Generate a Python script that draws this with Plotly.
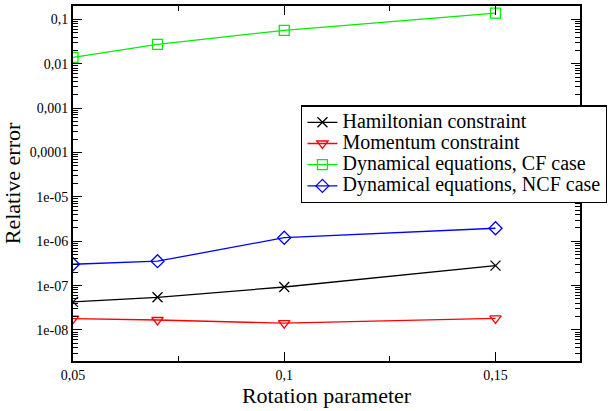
import plotly.graph_objects as go

x_vals = [0.05, 0.07, 0.1, 0.15]
hamiltonian = [4.3e-8, 5.45e-8, 9.3e-8, 2.82e-7]
momentum = [1.8e-8, 1.68e-8, 1.42e-8, 1.83e-8]
dyn_cf = [0.0139, 0.0274, 0.0565, 0.138]
dyn_ncf = [3.03e-7, 3.55e-7, 1.2e-6, 1.96e-6]

x_tickvals = [0.05, 0.1, 0.15]
x_ticktext = ["0,05", "0,1", "0,15"]
x_minor = [0.075, 0.125]
y_tickvals = [0.1, 0.01, 0.001, 0.0001, 1e-5, 1e-6, 1e-7, 1e-8]
y_ticktext = ["0,1", "0,01", "0,001", "0,0001", "1e-05", "1e-06", "1e-07", "1e-08"]
y_minor = [k * 10.0 ** e for e in range(-9, 0) for k in range(2, 10)]

series = [
    ("Hamiltonian constraint", hamiltonian, "black", "x-thin-open"),
    ("Momentum constraint", momentum, "#ff0000", "triangle-down-open"),
    ("Dynamical equations, CF case", dyn_cf, "#00ee00", "square-open"),
    ("Dynamical equations, NCF case", dyn_ncf, "#0000ff", "diamond-open"),
]

fig = go.Figure()
for name, vals, color, sym in series:
    fig.add_trace(go.Scatter(
        x=x_vals, y=vals, mode="lines+markers",
        name='<span style="font-size:20px">' + name + '</span>',
        line=dict(color=color, width=1.3),
        marker=dict(symbol=sym, size=10, color=color, line=dict(color=color, width=1.3)),
    ))

font = "Liberation Serif"
fig.update_layout(
    width=610, height=411,
    margin=dict(l=73, r=30, t=6, b=50, autoexpand=False),
    paper_bgcolor="white", plot_bgcolor="white",
    font=dict(family=font, color="black", size=14),
    showlegend=True,
    legend=dict(x=0.45, y=0.72, xanchor="left", yanchor="top",
                bgcolor="white", bordercolor="black", borderwidth=1.3,
                font=dict(family=font, size=14, color="black"), itemwidth=30,
                tracegroupgap=0),
)
fig.update_xaxes(
    range=[0.05, 0.17], tickvals=x_tickvals, ticktext=x_ticktext,
    ticks="inside", ticklen=9, tickwidth=1.3, tickcolor="black",
    showline=True, linecolor="black", linewidth=2, mirror="ticks",
    showgrid=False, zeroline=False, automargin=False,
    tickfont=dict(family=font, size=14, color="black"),
    minor=dict(tickvals=x_minor, ticks="inside", ticklen=5, tickcolor="black", tickwidth=1.3, showgrid=False),
    title=dict(text="Rotation parameter", font=dict(family=font, size=22, color="black"), standoff=4),
)
fig.update_yaxes(
    type="log", range=[-8.699, -0.699], tickvals=y_tickvals, ticktext=y_ticktext,
    ticks="inside", ticklen=9, tickwidth=1.3, tickcolor="black",
    showline=True, linecolor="black", linewidth=2, mirror="ticks",
    showgrid=False, zeroline=False, automargin=False,
    tickfont=dict(family=font, size=14, color="black"),
    minor=dict(tickvals=y_minor, ticks="inside", ticklen=5, tickcolor="black", tickwidth=1.3, showgrid=False),
    title=dict(text="Relative error", font=dict(family=font, size=22, color="black"), standoff=4),
)
fig.write_html("out.html", config={"displayModeBar": False},
               post_script="document.body.style.margin='0';")
